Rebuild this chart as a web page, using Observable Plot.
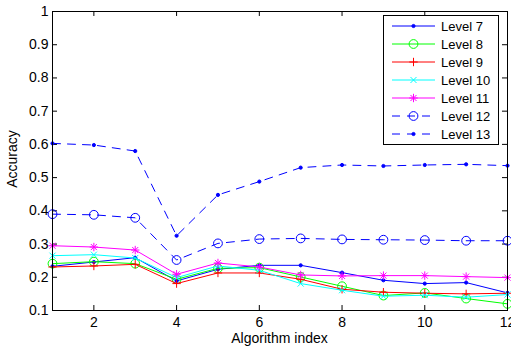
<!DOCTYPE html>
<html><head><meta charset="utf-8">
<script src="https://cdn.jsdelivr.net/npm/d3@7"></script>
<script src="https://cdn.jsdelivr.net/npm/@observablehq/plot@0.6"></script>
<style>
body{margin:0;background:#fff;}
#chart svg{font-family:"Liberation Sans",Arial,Helvetica,sans-serif;}
</style>
</head><body><div id="chart"></div>
<script>
const algIndex = [1,2,3,4,5,6,7,8,9,10,11,12];
const xTicks = [2,4,6,8,10,12];
const yTicks = [0.1,0.2,0.3,0.4,0.5,0.6,0.7,0.8,0.9,1];
const seriesNames = ["Level 7","Level 8","Level 9","Level 10","Level 11","Level 12","Level 13"];
const level7  = [0.233,0.246,0.259,0.189,0.224,0.236,0.236,0.214,0.191,0.181,0.184,0.153];
const level8  = [0.241,0.247,0.241,0.194,0.227,0.229,0.201,0.173,0.145,0.153,0.136,0.120];
const level9  = [0.231,0.234,0.239,0.181,0.213,0.213,0.194,0.164,0.155,0.152,0.150,0.152];
const level10 = [0.265,0.268,0.258,0.199,0.234,0.221,0.181,0.161,0.143,0.146,0.140,0.148];
const level11 = [0.295,0.291,0.282,0.209,0.243,0.231,0.207,0.204,0.205,0.205,0.202,0.199];
const level12 = [0.390,0.388,0.379,0.252,0.302,0.315,0.317,0.314,0.313,0.312,0.310,0.310];
const level13 = [0.603,0.598,0.580,0.325,0.448,0.488,0.530,0.538,0.535,0.538,0.540,0.536];
const seriesValues = [level7,level8,level9,level10,level11,level12,level13];

// marker shapes (size = r*r*PI as given by Plot)
const rad = s => Math.sqrt(s / Math.PI);
const symDot = {draw(c, s){const r = rad(s); c.moveTo(r,0); c.arc(0,0,r,0,2*Math.PI); c.closePath();}};
const symCircle = symDot;
const symPlus = {draw(c, s){const r = rad(s); c.moveTo(-r,0); c.lineTo(r,0); c.moveTo(0,-r); c.lineTo(0,r);}};
const symTimes = {draw(c, s){const r = rad(s)*0.72; c.moveTo(-r,-r); c.lineTo(r,r); c.moveTo(-r,r); c.lineTo(r,-r);}};
const symAster = {draw(c, s){const r = rad(s); const d = r*0.72; c.moveTo(-r,0); c.lineTo(r,0); c.moveTo(0,-r); c.lineTo(0,r); c.moveTo(-d,-d); c.lineTo(d,d); c.moveTo(-d,d); c.lineTo(d,-d);}};

const styles = [
  {color:"#0000ff", dash:null, sym:symDot, r:1.6, filled:true},
  {color:"#00ff00", dash:null, sym:symCircle, r:4.4, filled:false},
  {color:"#ff0000", dash:null, sym:symPlus, r:4.2, filled:false},
  {color:"#00ffff", dash:null, sym:symTimes, r:4.2, filled:false},
  {color:"#ff00ff", dash:null, sym:symAster, r:4.2, filled:false},
  {color:"#0000ff", dash:"8,7", sym:symCircle, r:4.4, filled:false},
  {color:"#0000ff", dash:"8,7", sym:symDot, r:1.6, filled:true}
];

const seriesMarks = seriesNames.flatMap((name, i) => {
  const st = styles[i];
  const rows = algIndex.map((x, j) => ({series: name, x, y: seriesValues[i][j]}));
  return [
    Plot.line(rows, {x:"x", y:"y", stroke: st.color, strokeWidth: 1, strokeDasharray: st.dash}),
    Plot.dot(rows, {x:"x", y:"y", symbol: st.sym, r: st.r, stroke: st.color, strokeWidth: 1, fill: st.filled ? st.color : "none"})
  ];
});

const W = 511, H = 349;
const chart = Plot.plot({
  width: W, height: H,
  marginLeft: 52, marginRight: 4, marginTop: 11, marginBottom: 39,
  style: {fontSize: "14px", fontFamily: "'Liberation Sans', Arial, Helvetica, sans-serif", background: "#fff"},
  x: {domain: [1, 12]},
  y: {domain: [0.1, 1]},
  marks: [
    Plot.axisX({ticks: xTicks, tickSize: 0, tickPadding: 7, label: null, fontSize: 14}),
    Plot.axisY({ticks: yTicks, tickSize: 0, tickPadding: 4, tickFormat: d3.format("~g"), label: null, fontSize: 14}),
    Plot.ruleX(xTicks, {x: d => d, y1: 0.1, y2: 0.115, stroke: "black"}),
    Plot.ruleX(xTicks, {x: d => d, y1: 1, y2: 0.985, stroke: "black"}),
    Plot.ruleY(yTicks, {y: d => d, x1: 1, x2: 1.121, stroke: "black"}),
    Plot.ruleY(yTicks, {y: d => d, x1: 12, x2: 11.879, stroke: "black"}),
    ...seriesMarks,
    Plot.frame({stroke: "black", strokeWidth: 1})
  ]
});
document.getElementById("chart").appendChild(chart);

// axis titles
const svg = d3.select(chart);
svg.append("text").attr("x", 279.5).attr("y", 343).attr("text-anchor", "middle")
  .attr("font-size", 14).attr("fill", "black").text("Algorithm index");
svg.append("text").attr("transform", "translate(17,159) rotate(-90)").attr("text-anchor", "middle")
  .attr("font-size", 14).attr("fill", "black").text("Accuracy");

// legend
const lg = svg.append("g");
lg.append("rect").attr("x", 383.5).attr("y", 15.5).attr("width", 115).attr("height", 129)
  .attr("fill", "white").attr("stroke", "black").attr("stroke-width", 1);
seriesNames.forEach((name, i) => {
  const st = styles[i];
  const cy = 26 + 18 * i;
  lg.append("line").attr("x1", 392).attr("x2", 435).attr("y1", cy).attr("y2", cy)
    .attr("stroke", st.color).attr("stroke-width", 1).attr("stroke-dasharray", st.dash);
  lg.append("path").attr("d", d3.symbol(st.sym, st.r * st.r * Math.PI)())
    .attr("transform", `translate(413.5,${cy})`)
    .attr("stroke", st.color).attr("fill", st.filled ? st.color : "none");
  lg.append("text").attr("x", 441).attr("y", cy).attr("dy", "0.35em").attr("text-anchor", "start")
    .attr("font-size", 13).attr("fill", "black").text(name);
});
</script>
</body></html>
